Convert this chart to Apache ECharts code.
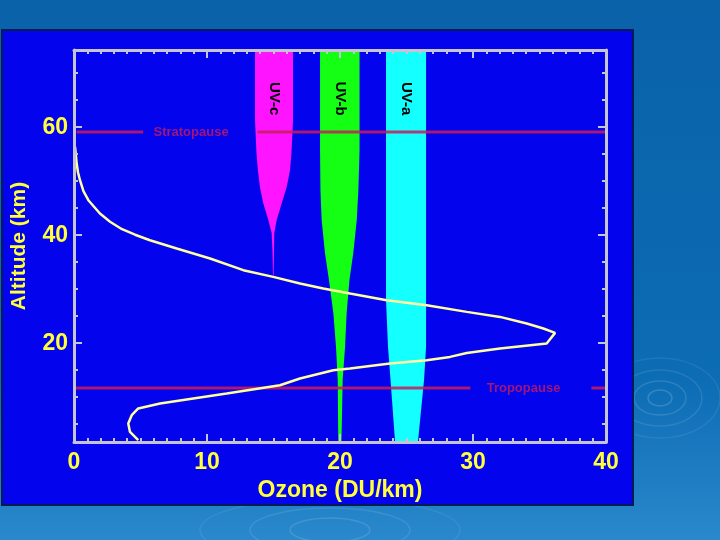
<!DOCTYPE html>
<html>
<head>
<meta charset="utf-8">
<script src="https://cdn.jsdelivr.net/npm/echarts@6/dist/echarts.min.js"></script>
<style>
html,body{margin:0;padding:0;width:720px;height:540px;overflow:hidden;background:#0b66ad;}
#chart{width:720px;height:540px;}
</style>
</head>
<body>
<div id="chart"></div>
<script>
// ---- Ozone profile (DU/km vs altitude km) ----
const ozoneX   = [0.08, 0.20, 0.30, 0.45, 0.71, 1.08, 1.95, 2.71, 3.61, 4.59, 5.71, 7.72, 10.23, 12.73, 14.98, 16.99, 18.74, 20.75, 23.51, 26.52, 29.53, 32.03, 34.04, 35.29, 36.17, 35.54, 32.03, 29.53, 28.27, 26.52, 23.76, 20.75, 19.50, 16.99, 15.49, 11.48, 8.97, 6.47, 4.83, 4.34, 4.08, 4.21, 4.83];
const ozoneAlt = [56.35, 53.28, 51.67, 50.19, 48.15, 46.48, 44.02, 42.50, 41.11, 40.09, 39.07, 37.54, 35.69, 33.52, 32.28, 31.06, 30.13, 29.20, 27.96, 27.04, 25.80, 24.87, 23.65, 22.72, 21.91, 19.94, 19.02, 18.20, 17.46, 16.85, 16.24, 15.31, 15.00, 13.46, 12.22, 10.69, 9.76, 8.83, 7.91, 6.67, 5.13, 3.57, 2.04];

// ---- UV penetration bands (left/right edge in DU/km units at each altitude) ----
const uvcAlt   = [74.3, 61.3, 55.2, 52.0, 48.9, 45.9, 42.8, 40.4, 37.2, 32.6];
const uvcLeft  = [13.61, 13.61, 13.72, 13.83, 13.98, 14.23, 14.61, 14.86, 14.92, 14.96];
const uvcRight = [16.47, 16.47, 16.35, 16.24, 15.99, 15.62, 15.24, 15.06, 15.04, 15.01];

const uvbAlt   = [74.3, 55.7, 48.3, 42.8, 36.7, 31.7, 25.6, 19.3, 13.2, 1.7];
const uvbLeft  = [18.50, 18.50, 18.53, 18.62, 18.87, 19.17, 19.50, 19.70, 19.83, 19.87];
const uvbRight = [21.47, 21.47, 21.38, 21.26, 21.00, 20.71, 20.50, 20.38, 20.20, 20.11];

const uvaAlt   = [74.3, 28.0, 19.3, 13.2, 1.7];
const uvaLeft  = [23.46, 23.46, 23.61, 23.80, 24.14];
const uvaRight = [26.47, 26.47, 26.47, 26.32, 25.86];

const bandNames  = ['UV-c', 'UV-b', 'UV-a'];
const bandLabelX = [15.04, 19.98, 24.96];
const bandLabelAlt = 65.3;

// ---- Reference layers ----
const stratoAlt = 59.1;
const stratoSegs = [[0.2, 5.2], [13.8, 40]];
const stratoLabelX = 8.8;
const tropoAlt = 11.7;
const tropoSegs = [[0, 29.8], [38.9, 40]];
const tropoLabelX = 33.8;

// ---- Axis ticks ----
const yLabels = [20, 40, 60];
const yMinorTicks = [5, 10, 15, 25, 30, 35, 45, 50, 55, 65, 70];
const yMin = 1.7, yMax = 74.3;

const FONT = "'Liberation Sans', Arial, sans-serif";
const YELLOW = '#ffff3c';
const AXIS = '#c4c4d4';
const RED = '#c81c5c';

const chart = echarts.init(document.getElementById('chart'));

function bandSeries(alt, left, right, color, name, lx) {
  return {
    type: 'custom', name: name, z: 3, silent: true,
    data: [[lx, bandLabelAlt]],
    renderItem: function (params, api) {
      const pts = [];
      for (let i = 0; i < alt.length; i++) pts.push(api.coord([left[i], alt[i]]));
      for (let i = alt.length - 1; i >= 0; i--) pts.push(api.coord([right[i], alt[i]]));
      const c = api.coord([api.value(0), api.value(1)]);
      return {
        type: 'group',
        children: [
          { type: 'polygon', shape: { points: pts }, style: { fill: color } },
          { type: 'text', x: c[0], y: c[1], rotation: -Math.PI / 2,
            style: { text: name, fill: '#000', font: 'bold 15px ' + FONT, align: 'center', verticalAlign: 'middle' } }
        ]
      };
    }
  };
}

function segSeries(seg, alt) {
  return {
    type: 'line', z: 4, silent: true, symbol: 'none',
    data: [[seg[0], alt], [seg[1], alt]],
    lineStyle: { color: RED, width: 3, opacity: 0.85 }
  };
}

const series = [
  bandSeries(uvcAlt, uvcLeft, uvcRight, '#ff14ff', bandNames[0], bandLabelX[0]),
  bandSeries(uvbAlt, uvbLeft, uvbRight, '#14ff14', bandNames[1], bandLabelX[1]),
  bandSeries(uvaAlt, uvaLeft, uvaRight, '#14ffff', bandNames[2], bandLabelX[2])
];
stratoSegs.forEach(s => series.push(segSeries(s, stratoAlt)));
tropoSegs.forEach(s => series.push(segSeries(s, tropoAlt)));
series.push({
  type: 'scatter', z: 4, silent: true, symbolSize: 0,
  data: [{ name: 'Stratopause', value: [stratoLabelX, stratoAlt] },
         { name: 'Tropopause', value: [tropoLabelX, tropoAlt] }],
  label: { show: true, position: 'inside', formatter: '{b}', color: RED,
           fontFamily: FONT, fontWeight: 'bold', fontSize: 13 }
});
series.push({
  type: 'line', z: 5, silent: true, symbol: 'none', smooth: false,
  data: ozoneX.map((x, i) => [x, ozoneAlt[i]]),
  lineStyle: { color: '#ffffa0', width: 2.5 }
});

function ring(cx, cy, rx, ry, op) {
  return { type: 'ellipse', shape: { cx: cx, cy: cy, rx: rx, ry: ry }, z: -9,
           style: { fill: null, stroke: 'rgba(255,255,255,' + op + ')', lineWidth: 1.5 } };
}

const graphics = [
  { type: 'rect', shape: { x: 0, y: 0, width: 720, height: 540 }, z: -10,
    style: { fill: new echarts.graphic.LinearGradient(0, 0, 0, 1, [
      { offset: 0, color: '#0a62a9' }, { offset: 0.7, color: '#0c6cb4' }, { offset: 1, color: '#2a88cc' }]) } },
  ring(660, 398, 12, 8, 0.16), ring(660, 398, 26, 17, 0.13), ring(660, 398, 42, 28, 0.10), ring(660, 398, 60, 40, 0.08),
  ring(330, 530, 40, 12, 0.13), ring(330, 530, 80, 22, 0.10), ring(330, 530, 130, 32, 0.08),
  { type: 'rect', shape: { x: 2, y: 30, width: 631, height: 475 }, z: -8,
    style: { fill: '#0303ee', stroke: '#061a52', lineWidth: 2 } }
];

const yBase = { type: 'value', min: yMin, max: yMax, splitLine: { show: false } };
const xBase = { type: 'value', min: 0, max: 40, interval: 10, splitLine: { show: false } };

chart.setOption({
  animation: false,
  backgroundColor: 'transparent',
  graphic: graphics,
  grid: { left: 74, top: 50, right: 114, bottom: 98, containLabel: false },
  xAxis: [
    Object.assign({}, xBase, {
      position: 'bottom', z: 6,
      name: 'Ozone (DU/km)', nameLocation: 'middle', nameGap: 36,
      nameTextStyle: { color: YELLOW, fontFamily: FONT, fontWeight: 'bold', fontSize: 23 },
      axisLine: { show: true, lineStyle: { color: AXIS, width: 3 } },
      axisTick: { show: true, inside: true, length: 8, lineStyle: { color: AXIS, width: 2 } },
      minorTick: { show: true, splitNumber: 10, length: 4, lineStyle: { color: AXIS, width: 2 } },
      axisLabel: { color: YELLOW, fontFamily: FONT, fontWeight: 'bold', fontSize: 23, margin: 9 }
    }),
    Object.assign({}, xBase, {
      position: 'top', z: 6,
      axisLine: { show: true, lineStyle: { color: AXIS, width: 3 } },
      axisTick: { show: true, inside: true, length: 8, lineStyle: { color: AXIS, width: 2 } },
      minorTick: { show: true, splitNumber: 10, length: 4, lineStyle: { color: AXIS, width: 2 } },
      axisLabel: { show: false }
    })
  ],
  yAxis: [
    Object.assign({}, yBase, {
      position: 'left', z: 6,
      name: 'Altitude (km)', nameLocation: 'middle', nameGap: 44, nameRotate: 90,
      nameTextStyle: { color: YELLOW, fontFamily: FONT, fontWeight: 'bold', fontSize: 21 },
      axisLine: { show: true, lineStyle: { color: AXIS, width: 3 } },
      axisTick: { show: true, inside: true, length: 8, customValues: yLabels, lineStyle: { color: AXIS, width: 2 } },
      axisLabel: { customValues: yLabels, color: YELLOW, fontFamily: FONT, fontWeight: 'bold', fontSize: 23, margin: 6 }
    }),
    Object.assign({}, yBase, {
      position: 'left', z: 6,
      axisLine: { show: false },
      axisTick: { show: true, inside: true, length: 4, customValues: yMinorTicks, lineStyle: { color: AXIS, width: 2 } },
      axisLabel: { show: false }
    }),
    Object.assign({}, yBase, {
      position: 'right', z: 6,
      axisLine: { show: true, lineStyle: { color: AXIS, width: 3 } },
      axisTick: { show: true, inside: true, length: 8, customValues: yLabels, lineStyle: { color: AXIS, width: 2 } },
      axisLabel: { show: false }
    }),
    Object.assign({}, yBase, {
      position: 'right', z: 6,
      axisLine: { show: false },
      axisTick: { show: true, inside: true, length: 4, customValues: yMinorTicks, lineStyle: { color: AXIS, width: 2 } },
      axisLabel: { show: false }
    })
  ],
  series: series
});
</script>
</body>
</html>
